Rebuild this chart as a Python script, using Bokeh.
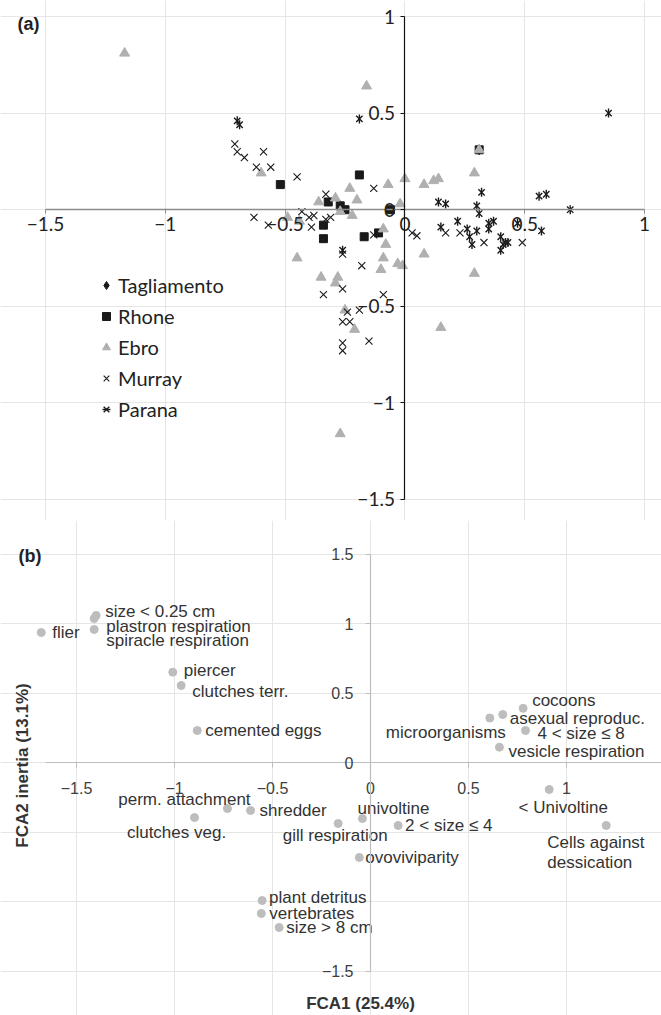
import numpy as np
from bokeh.plotting import figure
from bokeh.models import (Range1d, LinearAxis, FixedTicker, Legend, LegendItem,
                          Label, ColumnDataSource)
from bokeh.layouts import column
from bokeh.embed import file_html
from bokeh.resources import INLINE
from bokeh.core.properties import value

# ---------------- Panel (a) data ----------------
tag_x = [0.31, -0.27]
tag_y = [0.31, 0.02]

rhone_x = [-0.52, -0.32, -0.19, -0.27, -0.25, -0.34, -0.34, -0.17, -0.11, -0.06, 0.31]
rhone_y = [0.13, 0.04, 0.18, 0.02, 0.00, -0.08, -0.15, -0.14, -0.12, 0.00, 0.31]

ebro_x = [-1.17, -0.60, -0.36, -0.49, -0.44, -0.45, -0.29, -0.23, -0.07, 0.00, -0.20, -0.27,
          -0.22, -0.02, -0.09, -0.08, -0.09, -0.10, -0.03, -0.01, -0.35, -0.28, -0.29, 0.08,
          -0.25, -0.21, -0.27, 0.29, 0.15, -0.16, 0.31, 0.29, 0.08, 0.12, 0.14]
ebro_y = [0.81, 0.19, 0.04, -0.04, -0.06, -0.25, 0.06, 0.11, 0.13, 0.16, 0.05, -0.01,
          -0.03, 0.03, -0.10, -0.18, -0.25, -0.31, -0.28, -0.29, -0.35, -0.35, -0.38, -0.23,
          -0.52, -0.62, -1.16, -0.33, -0.61, 0.64, 0.31, 0.19, 0.13, 0.15, 0.16]

murray_x = [-0.71, -0.70, -0.67, -0.59, -0.62, -0.56, -0.45, -0.33, -0.13, -0.63, -0.57, -0.43,
            -0.40, -0.38, -0.39, -0.33, -0.31, -0.13, -0.26, -0.18, 0.03, 0.05, -0.34, -0.26,
            -0.09, -0.24, -0.19, -0.26, -0.23, -0.15, -0.26, -0.26, 0.17, 0.23, 0.33, 0.49]
murray_y = [0.34, 0.30, 0.27, 0.30, 0.22, 0.22, 0.17, 0.08, 0.11, -0.04, -0.08, -0.01,
            -0.04, -0.03, -0.09, -0.05, -0.04, -0.13, -0.23, -0.29, -0.12, -0.135, -0.44, -0.41,
            -0.44, -0.53, -0.52, -0.58, -0.58, -0.68, -0.69, -0.73, -0.12, -0.12, -0.17, -0.17]

parana_x = [-0.70, -0.69, -0.19, 0.85, 0.32, 0.14, 0.17, 0.30, 0.56, 0.59, 0.69, 0.31, 0.15,
            0.22, 0.26, 0.30, 0.35, 0.37, 0.35, 0.47, 0.57, 0.28, 0.27, 0.40, 0.42, 0.41,
            0.43, 0.40, -0.26]
parana_y = [0.46, 0.44, 0.47, 0.50, 0.09, 0.04, 0.03, 0.02, 0.07, 0.08, 0.00, -0.02, -0.09,
            -0.06, -0.10, -0.11, -0.07, -0.06, -0.10, -0.07, -0.11, -0.18, -0.14, -0.14, -0.17,
            -0.18, -0.17, -0.21, -0.21]

series_names = ["Tagliamento", "Rhone", "Ebro", "Murray", "Parana"]
ticks_a = [-1.5, -1, -0.5, 0, 0.5, 1]
tick_labels_a = ["\u22121.5", "\u22121", "\u22120.5", "0", "0.5", "1"]

# ---------------- Panel (b) data ----------------
trait_names = ["flier", "size < 0.25 cm", "plastron respiration", "spiracle respiration",
               "piercer", "clutches terr.", "cemented eggs", "cocoons", "microorganisms",
               "asexual reproduc.", "4 < size \u2264 8", "vesicle respiration", "< Univoltine",
               "Cells against\ndessication", "perm. attachment", "shredder", "clutches veg.",
               "gill respiration", "univoltine", "2 < size \u2264 4", "ovoviviparity",
               "plant detritus", "vertebrates", "size > 8 cm"]
fca1 = [-1.68, -1.40, -1.41, -1.41, -1.009, -0.966, -0.884, 0.779, 0.609, 0.675, 0.791, 0.658,
        0.912, 1.203, -0.730, -0.612, -0.898, -0.165, -0.041, 0.141, -0.057, -0.553, -0.557, -0.466]
fca2 = [0.935, 1.058, 1.036, 0.957, 0.65, 0.554, 0.23, 0.39, 0.32, 0.345, 0.23, 0.11,
        -0.194, -0.453, -0.331, -0.345, -0.396, -0.439, -0.403, -0.453, -0.683, -0.993, -1.086, -1.187]
ticks_bx = [-1.5, -1, -0.5, 0, 0.5, 1]
tick_labels_bx = ["\u22121.5", "\u22121", "\u22120.5", "0", "0.5", "1"]
ticks_by = [-1.5, 0, 0.5, 1, 1.5]
tick_labels_by = ["\u22121.5", "0", "0.5", "1", "1.5"]

# label placement (screen px offsets from each point) - layout only
lab_dx = [11, 9, 12, 12, 11, 11, 8, 9, 16, 7, 12, 9, 14, -59, -43, 9, -18, -3, 31, 7, 6, 7, 8, 7]
lab_dy = [0, -4, 8, 11, -2, 6, 0, -8, 14, 4, 3, 4, 18, 27, -9, 0, 15, 12, -10, 0, 0, -3, 0, 0]
lab_align = ["left", "left", "left", "left", "left", "left", "left", "left", "right", "left",
             "left", "left", "center", "left", "center", "left", "center", "center", "center",
             "left", "left", "left", "left", "left"]

FONT_A = "Lato"
FONT_B = "Liberation Sans"

# ---------------- Panel (a) ----------------
pa = figure(width=661, height=520, x_range=Range1d(-1.688, 1.071), y_range=Range1d(-1.609, 1.083),
            output_backend="svg", toolbar_location=None, x_axis_location=None,
            y_axis_location=None, min_border=0)
pa.outline_line_color = None
pa.background_fill_color = "white"

xa = LinearAxis(fixed_location=0, bounds=(-1.5, 1), ticker=FixedTicker(ticks=ticks_a),
                major_label_overrides={t: l for t, l in zip(ticks_a, tick_labels_a)},
                axis_line_color="#8c8c8c", axis_line_width=1.5, major_tick_line_color="#8c8c8c",
                major_tick_out=4, major_tick_in=0, minor_tick_out=0, minor_tick_in=0,
                major_label_standoff=3, major_label_text_font=FONT_A,
                major_label_text_font_size="19px", major_label_text_color="#222222")
pa.add_layout(xa, "below")
ya = LinearAxis(fixed_location=0, bounds=(-1.5, 1), ticker=FixedTicker(ticks=ticks_a),
                major_label_overrides={t: l for t, l in zip(ticks_a, tick_labels_a)},
                axis_line_color="#111111", axis_line_width=1.2, major_tick_line_color="#111111",
                major_tick_out=4, major_tick_in=0, minor_tick_out=0, minor_tick_in=0,
                major_label_standoff=6, major_label_text_font=FONT_A,
                major_label_text_font_size="19px", major_label_text_color="#222222")
pa.add_layout(ya, "left")

r_t = pa.scatter(tag_x, tag_y, marker="diamond", size=10, color="#1a1a1a")
r_r = pa.scatter(rhone_x, rhone_y, marker="square", size=8, color="#1a1a1a")
r_e = pa.scatter(ebro_x, ebro_y, marker="triangle", size=10, color="#b0b0b0")
r_m = pa.scatter(murray_x, murray_y, marker="x", size=10, line_color="#1a1a1a", line_width=1.1)
r_p1 = pa.scatter(parana_x, parana_y, marker="x", size=9, line_color="#1a1a1a", line_width=1.4)
r_p2 = pa.scatter(parana_x, parana_y, marker="dash", size=9, angle=np.pi / 2,
                  line_color="#1a1a1a", line_width=1.4)

legend = Legend(items=[LegendItem(label=series_names[0], renderers=[r_t]),
                       LegendItem(label=series_names[1], renderers=[r_r]),
                       LegendItem(label=series_names[2], renderers=[r_e]),
                       LegendItem(label=series_names[3], renderers=[r_m]),
                       LegendItem(label=series_names[4], renderers=[r_p1, r_p2])],
                location=(96, 99), orientation="vertical", padding=0, margin=0, spacing=7,
                glyph_width=20, glyph_height=20, label_height=20, label_standoff=2,
                label_text_font=FONT_A, label_text_font_size="20px", label_text_color="#222222",
                border_line_color=None, background_fill_alpha=0)
pa.add_layout(legend)

pa.add_layout(Label(x=17, y=497, x_units="screen", y_units="screen", text="(a)",
                    text_font=FONT_B, text_font_style="bold", text_font_size="18px",
                    text_baseline="middle", text_color="#222222"))

# ---------------- Panel (b) ----------------
pb = figure(width=661, height=495, x_range=Range1d(-1.888, 1.485), y_range=Range1d(-1.820, 1.741),
            output_backend="svg", toolbar_location=None, x_axis_location=None,
            y_axis_location=None, min_border=0)
pb.outline_line_color = None

xb = LinearAxis(fixed_location=0, bounds=(-1.66, 1.485), ticker=FixedTicker(ticks=ticks_bx),
                major_label_overrides={t: l for t, l in zip(ticks_bx, tick_labels_bx)},
                axis_line_color="#bdbdbd", axis_line_width=1.2, major_tick_line_color="#bdbdbd",
                major_tick_out=5, major_tick_in=0, minor_tick_out=0, minor_tick_in=0,
                major_label_standoff=14, major_label_text_font=FONT_B,
                major_label_text_font_size="16px", major_label_text_color="#404040")
pb.add_layout(xb, "below")
yb = LinearAxis(fixed_location=0, bounds=(-1.5, 1.5), ticker=FixedTicker(ticks=ticks_by),
                major_label_overrides={t: l for t, l in zip(ticks_by, tick_labels_by)},
                axis_line_color="#bdbdbd", axis_line_width=1.2, major_tick_line_color="#bdbdbd",
                major_tick_out=5, major_tick_in=0, minor_tick_out=0, minor_tick_in=0,
                major_label_standoff=12, major_label_text_font=FONT_B,
                major_label_text_font_size="16px", major_label_text_color="#404040")
pb.add_layout(yb, "left")

src_b = ColumnDataSource(dict(x=fca1, y=fca2, name=trait_names, dx=lab_dx, dy=lab_dy, align=lab_align))
pb.scatter("x", "y", source=src_b, size=8, color="#bdbdbd")
pb.text("x", "y", text="name", source=src_b, x_offset="dx", y_offset="dy", text_align="align",
        text_baseline="middle", text_font=value(FONT_B), text_font_size="17px",
        text_color="#333333", text_line_height=1.1)

pb.add_layout(Label(x=18, y=460, x_units="screen", y_units="screen", text="(b)",
                    text_font=FONT_B, text_font_style="bold", text_font_size="18px",
                    text_baseline="middle", text_color="#222222"))
pb.add_layout(Label(x=360, y=12, x_units="screen", y_units="screen", text="FCA1 (25.4%)",
                    text_font=FONT_B, text_font_style="bold", text_font_size="17px",
                    text_align="center", text_baseline="middle", text_color="#333333"))
pb.add_layout(Label(x=22, y=250, x_units="screen", y_units="screen", text="FCA2 inertia (13.1%)",
                    angle=np.pi / 2, text_font=FONT_B, text_font_style="bold",
                    text_font_size="17px", text_align="center", text_baseline="middle",
                    text_color="#333333"))

layout = column(pa, pb, spacing=0)
open("out.html", "w").write(file_html(layout, INLINE))
